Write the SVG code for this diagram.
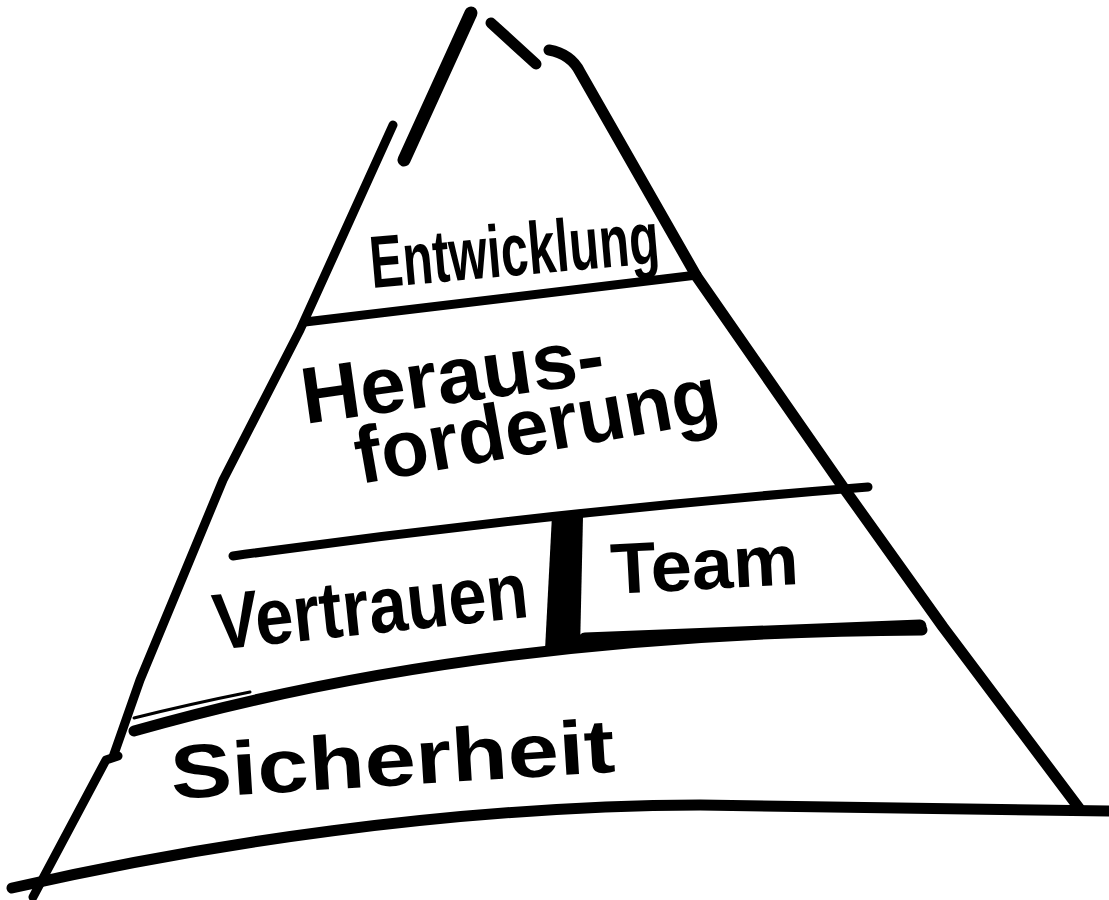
<svg xmlns="http://www.w3.org/2000/svg" width="1109" height="900" viewBox="0 0 1109 900">
<style>
.ink{fill:none;stroke:#000;stroke-linecap:round;stroke-linejoin:round}
.w9{stroke-width:9}
.w11{stroke-width:11}
.w13{stroke-width:13}
.thin{stroke-width:3}
.hand{font-family:"Liberation Sans","DejaVu Sans",sans-serif;font-weight:700;fill:#000}
</style>
<rect x="0" y="0" width="1109" height="900" fill="#fff"/>
<g id="connectors">
<path class="ink w13" d="M471,13 L404,160"/>
<path class="ink w11" d="M491,23 L536,64"/>
<path class="ink w11" d="M549,50 Q571,54 580,72 L697,277 L843,487 L943,627 L1079,808"/>
<path class="ink w9" d="M393,125 L300,330 L223,480 L140,680 L113,757"/>
<path class="ink w9" d="M118,756 L106,760 L33,897"/>
<path class="ink w9" d="M305,322 L697,275"/>
<path class="ink w9" d="M233,556 Q550,512 868,487"/>
<path class="ink w11" d="M134,731 Q480,632 922,630"/>
<path class="ink thin" d="M134,718 Q190,704 250,692"/>
<path class="ink w13" d="M585,639 L920,626"/>
<path class="ink w11" d="M12,888 C200,845 450,806 700,805 L1109,811"/>
<path d="M552,515 Q568,511 583,517 L580,650 Q562,653 545,650 Z" fill="#000"/>
</g>
<g id="entwicklung">
<text class="hand" x="372" y="288" font-size="74" textLength="290" lengthAdjust="spacingAndGlyphs" transform="rotate(-5 372 288)">Entwicklung</text>
</g>
<g id="herausforderung">
<text class="hand" x="305" y="424" font-size="80" textLength="305" lengthAdjust="spacingAndGlyphs" transform="rotate(-8 305 424)">Heraus-</text>
<text class="hand" x="360" y="484" font-size="80" textLength="368" lengthAdjust="spacingAndGlyphs" transform="rotate(-10 360 484)">forderung</text>
</g>
<g id="vertrauen">
<text class="hand" x="216" y="650" font-size="80" textLength="316" lengthAdjust="spacingAndGlyphs" transform="rotate(-6 216 650)">Vertrauen</text>
</g>
<g id="team">
<text class="hand" x="612" y="594" font-size="72" textLength="188" lengthAdjust="spacingAndGlyphs" transform="rotate(-3 612 594)">Team</text>
</g>
<g id="sicherheit">
<text class="hand" x="172" y="799" font-size="76" textLength="445" lengthAdjust="spacingAndGlyphs" transform="rotate(-3.5 172 799)">Sicherheit</text>
</g>
</svg>
